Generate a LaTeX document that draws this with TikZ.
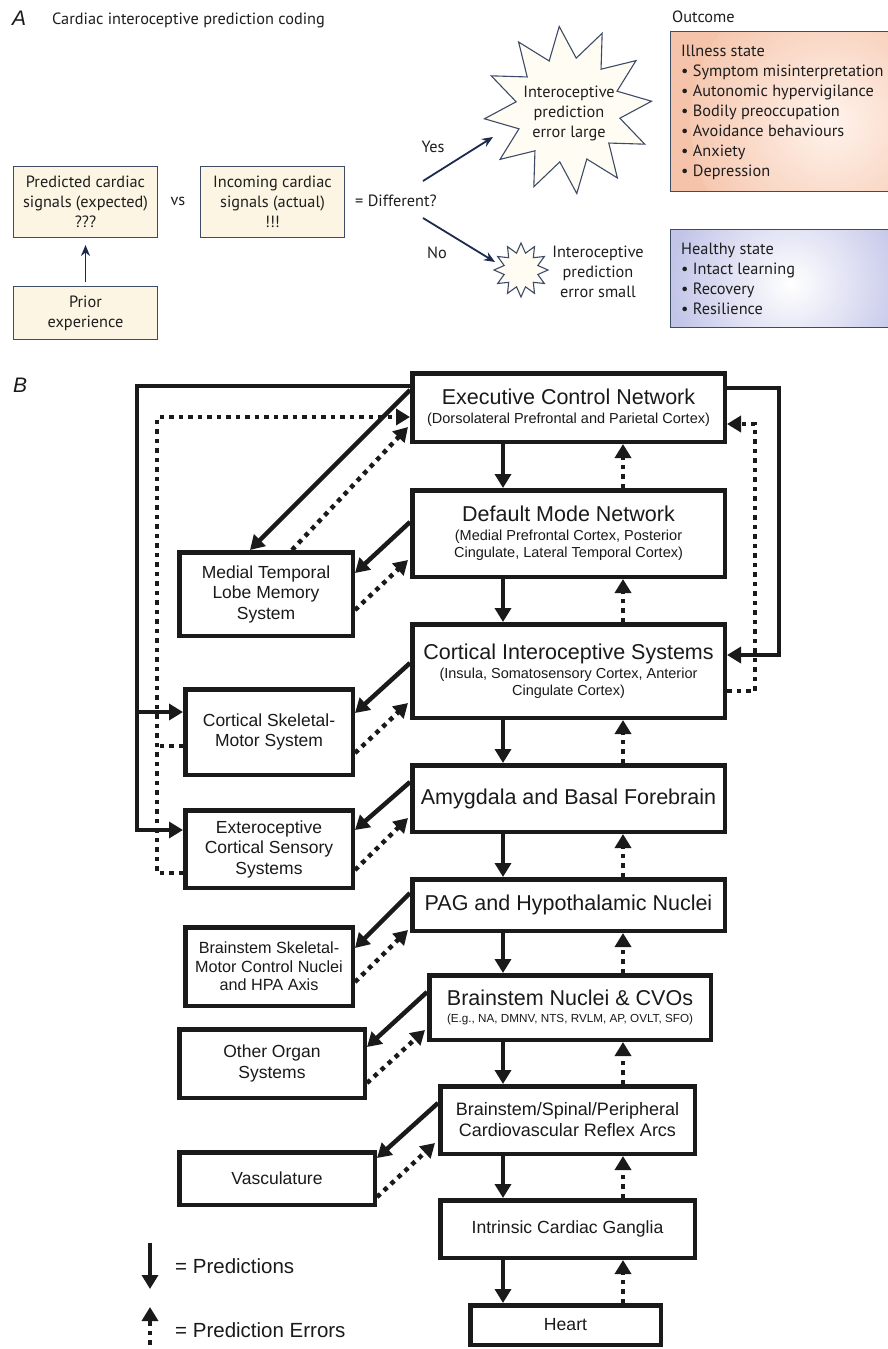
\documentclass[tikz,border=0pt]{standalone}
\usepackage{fontspec}
\setmainfont{Liberation Sans}
\newfontfamily\afont{PT Sans}
\usetikzlibrary{arrows.meta,calc,shapes.geometric}
\definecolor{acream}{HTML}{FCF5E3}
\definecolor{aborder}{HTML}{3E4B66}
\definecolor{anavy}{HTML}{1C2B4D}
\definecolor{starfill}{HTML}{FFFDF3}
\definecolor{atext}{HTML}{1E1E1E}
\definecolor{bink}{HTML}{1A1A1A}
\definecolor{peach}{HTML}{F5C3A9}
\definecolor{peachlt}{HTML}{FFF3EC}
\definecolor{lav}{HTML}{C3C5E8}
\definecolor{lavlt}{HTML}{FFFFFF}
\newcommand\myfs[2]{\fontsize{#1}{#2}\selectfont}
\tikzset{
 abox/.style={draw=aborder, fill=acream, line width=1.2pt, inner sep=0pt, align=center, text=atext, font=\afont\myfs{16.3}{20}, minimum width=143.8pt},
 atxt/.style={inner sep=0pt, text=atext, font=\afont\myfs{16.3}{20}, align=center},
 aarrow/.style={draw=anavy, line width=1.8pt, -{Stealth[length=11pt,width=9pt]}},
 starsh/.style={star, star points=12, draw=aborder, fill=starfill, line width=1.1pt, inner sep=0pt},
 bbox/.style={draw=bink, line width=4.5pt, fill=white, inner sep=0pt, align=center, text=bink},
 sbox/.style={bbox, font=\myfs{17.5}{20.5}},
 pred/.style={draw=bink, line width=4.5pt, -{Triangle[width=16pt,length=14pt]}},
 predline/.style={draw=bink, line width=4.5pt},
 perr/.style={draw=bink, line width=4.5pt, dash pattern=on 4.5pt off 5pt, -{Triangle[width=16pt,length=14pt]}},
 perrline/.style={draw=bink, line width=4.5pt, dash pattern=on 4.5pt off 5pt},
 btxt/.style={inner sep=0pt, text=bink},
}
\begin{document}
\begin{tikzpicture}[x=1pt,y=-1pt]
\useasboundingbox (0,0) rectangle (887,1349);
\fill[white] (0,0) rectangle (887,1349);

% ---------------- Panel A ----------------
\node[btxt, anchor=west, font=\myfs{21}{24}\itshape] (alabel) at (12,18) {A};
\node[atxt, anchor=west, font=\afont\myfs{16.3}{18}] (atitle) at (52,20) {Cardiac interoceptive prediction coding};

\node[abox, minimum height=70.8pt] (pcs) at (85.5,202) {Predicted cardiac\\signals (expected)\\???};
\node[abox, minimum height=70.8pt] (ics) at (272.5,202) {Incoming cardiac\\signals (actual)\\!!!};
\node[abox, minimum height=52.8pt] (prior) at (85.5,313) {Prior\\experience};
\draw[aarrow] ($(prior.north)+(0,-4)$) -- ($(pcs.south)+(0,7)$);

\node[atxt] (vs) at (178,201) {vs};
\node[atxt, anchor=west] (diff) at (355,201) {= Different?};
\node[atxt] (yes) at (433,147) {Yes};
\node[atxt] (no) at (437,253) {No};

\node[starsh, minimum size=168pt, star point ratio=1.6, shape border rotate=6] (bigstar) at (568,110) {};
\node[atxt] (bigtxt) at (569,113) {Interoceptive\\prediction\\error large};
\node[starsh, minimum size=54pt, star point ratio=1.55] (smallstar) at (521,270) {};
\node[atxt] (smalltxt) at (598,272) {Interoceptive\\prediction\\error small};

\coordinate (yesS) at (423,181);
\coordinate (noS) at (423,218);
\draw[aarrow] (yesS) -- ($(bigstar.center)+(-75,27)$);
\draw[aarrow] (noS) -- ($(smallstar.center)+(-26,-8)$);

\node[atxt, anchor=west] (outc) at (672,17) {Outcome};
\node[draw=aborder, line width=1.2pt, fill=peach, minimum width=240pt, minimum height=159.8pt, anchor=north west, inner sep=0pt,
  path picture={\shade[inner color=peachlt, outer color=peach] ($(path picture bounding box.center)+(50,10)$) circle (150pt);}] (ill) at (670,31) {};
\node[atxt, align=left, anchor=north west] (illtxt) at (681,44.5) {Illness state\\• Symptom misinterpretation\\• Autonomic hypervigilance\\• Bodily preoccupation\\• Avoidance behaviours\\• Anxiety\\• Depression};
\node[draw=aborder, line width=1.2pt, fill=lav, minimum width=240pt, minimum height=97.8pt, anchor=north west, inner sep=0pt,
  path picture={\shade[inner color=lavlt, outer color=lav] ($(path picture bounding box.center)+(-5,5)$) circle (115pt);}] (hea) at (670,229) {};
\node[atxt, align=left, anchor=north west] (heatxt) at (681,242.5) {Healthy state\\• Intact learning\\• Recovery\\• Resilience};

% ---------------- Panel B ----------------
\node[btxt, anchor=west, font=\myfs{21}{24}\itshape] (blabel) at (13,385) {B};

\node[bbox, font=\myfs{14.5}{17}, minimum width=312.5pt, minimum height=68.5pt] (exec) at (568.5,407.5)
  {{\myfs{21.5}{25}Executive Control Network}\\[2pt](Dorsolateral Prefrontal and Parietal Cortex)};
\node[bbox, font=\myfs{14.5}{17}, minimum width=312.5pt, minimum height=86.5pt] (dmn) at (568.5,533.5)
  {{\myfs{21.5}{25}Default Mode Network}\\[2pt](Medial Prefrontal Cortex, Posterior\\Cingulate, Lateral Temporal Cortex)};
\node[bbox, font=\myfs{14.5}{17}, minimum width=312.5pt, minimum height=93.5pt] (cis) at (568.5,671)
  {{\myfs{21.5}{25}Cortical Interoceptive Systems}\\[2pt](Insula, Somatosensory Cortex, Anterior\\Cingulate Cortex)};
\node[bbox, font=\myfs{21.5}{25}, minimum width=312.5pt, minimum height=66.5pt] (amy) at (568.5,798.5) {Amygdala and Basal Forebrain};
\node[bbox, font=\myfs{21.5}{25}, minimum width=312.5pt, minimum height=51.5pt] (pag) at (568.5,905) {PAG and Hypothalamic Nuclei};
\node[bbox, font=\myfs{11.7}{14}, minimum width=281.5pt, minimum height=64.5pt] (bnc) at (570,1007.5)
  {{\myfs{21.5}{25}Brainstem Nuclei \& CVOs}\\[3pt](E.g., NA, DMNV, NTS, RVLM, AP, OVLT, SFO)};
\node[bbox, font=\myfs{18}{21}, minimum width=254.5pt, minimum height=67.5pt] (bsp) at (567.5,1120) {Brainstem/Spinal/Peripheral\\Cardiovascular Reflex Arcs};
\node[bbox, font=\myfs{17.6}{21}, minimum width=254.5pt, minimum height=57.5pt] (icg) at (567.5,1229) {Intrinsic Cardiac Ganglia};
\node[bbox, font=\myfs{17.6}{21}, minimum width=190.5pt, minimum height=39.5pt] (heart) at (565.5,1325) {Heart};

\node[sbox, minimum width=173.5pt, minimum height=83.5pt] (mtl) at (266,594) {Medial Temporal\\Lobe Memory\\System};
\node[sbox, minimum width=167.5pt, minimum height=85.5pt] (csm) at (269,732) {Cortical Skeletal-\\Motor System};
\node[sbox, minimum width=167.5pt, minimum height=77.5pt] (ext) at (269,849) {Exteroceptive\\Cortical Sensory\\Systems};
\node[sbox, font=\myfs{16.2}{18.5}, minimum width=167.5pt, minimum height=78.5pt] (bsm) at (269,966.5) {Brainstem Skeletal-\\Motor Control Nuclei\\and HPA Axis};
\node[sbox, minimum width=185.5pt, minimum height=68.5pt] (oos) at (272,1063.5) {Other Organ\\Systems};
\node[sbox, minimum width=195.5pt, minimum height=52.5pt] (vas) at (277,1178.5) {Vasculature};

% vertical chain
\coordinate (colL) at (503,0);
\coordinate (colR) at (623,0);
\foreach \u/\l in {exec/dmn, dmn/cis, cis/amy, amy/pag, pag/bnc, bnc/bsp, bsp/icg, icg/heart} {
  \draw[pred] (\u.south -| colL) -- (\l.north -| colL);
  \draw[perr] (\l.north -| colR) -- (\u.south -| colR);
}

% left loops
\draw[perr] ($(ext.north west)+(0,65)$) -- (157,873) -- (157,417) -- ($(exec.north west)+(0,46)$);
\draw[perrline] ($(csm.north west)+(0,59)$) -- (157,746);
\draw[pred] ($(exec.north west)+(0,15)$) -- (137,386) -- (137,830) -- ($(ext.north west)+(0,22)$);
\draw[pred] (137,712) -- ($(csm.north west)+(0,25)$);

% right loops
\draw[perr] ($(cis.north east)+(0,69)$) -- (755,691) -- (755,424) -- ($(exec.north east)+(0,53)$);
\draw[pred] ($(exec.north east)+(0,17)$) -- (779,388) -- (779,655) -- ($(cis.north east)+(0,33)$);

% diagonal predictions
\draw[pred] ($(exec.north west)+(0,19)$) -- ($(mtl.north west)+(73,0)$);
\draw[pred] ($(dmn.north west)+(0,34)$) -- ($(mtl.north east)+(0,23)$);
\draw[pred] ($(cis.north west)+(0,41)$) -- ($(csm.north east)+(0,26)$);
\draw[pred] ($(amy.north west)+(0,19)$) -- ($(ext.north east)+(0,22)$);
\draw[pred] ($(pag.north west)+(0,16)$) -- ($(bsm.north east)+(0,23)$);
\draw[pred] ($(bnc.north west)+(0,19)$) -- ($(oos.north east)+(0,20)$);
\draw[pred] ($(bsp.north west)+(0,19)$) -- ($(vas.north east)+(0,8)$);

% diagonal prediction errors
\draw[perr] ($(mtl.north west)+(115,0)$) -- ($(exec.north west)+(-2,56)$);
\draw[perr] ($(mtl.north east)+(0,60)$) -- ($(dmn.north west)+(-2,72)$);
\draw[perr] ($(csm.north east)+(0,66)$) -- ($(cis.north west)+(-2,81)$);
\draw[perr] ($(ext.north east)+(0,62)$) -- ($(amy.north west)+(-2,55)$);
\draw[perr] ($(bsm.north east)+(0,57)$) -- ($(pag.north west)+(-2,53)$);
\draw[perr] ($(oos.north east)+(0,56)$) -- ($(bnc.north west)+(-2,57)$);
\draw[perr] ($(vas.north east)+(0,47)$) -- ($(bsp.north west)+(-3,59)$);

% legend
\coordinate (lp1) at (150,1243);
\coordinate (lp2) at (150,1289);
\draw[pred] (lp1) -- (lp2);
\coordinate (le1) at (150,1354);
\coordinate (le2) at (150,1307);
\draw[perr] (le1) -- (le2);
\node[btxt, anchor=west, font=\myfs{20.5}{24}] (legp) at (175,1266) {= Predictions};
\node[btxt, anchor=west, font=\myfs{20.5}{24}] (lege) at (175,1330) {= Prediction Errors};
\end{tikzpicture}
\end{document}
